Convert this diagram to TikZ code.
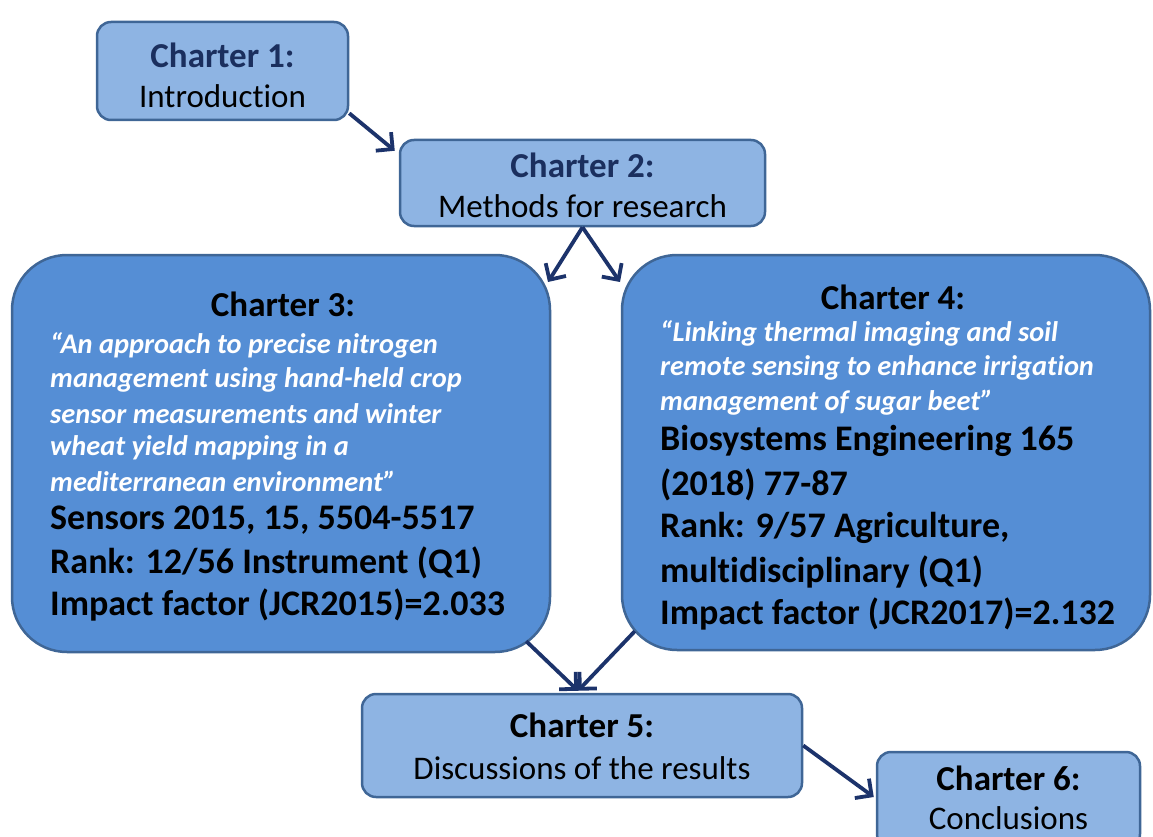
\documentclass[tikz,border=0pt]{standalone}
\usepackage{fontspec}
\setmainfont{Carlito}[Ligatures={NoCommon,NoContextual,NoRare}, RawFeature={-liga;-clig;-dlig;-calt}]
\usetikzlibrary{arrows.meta,calc}
\definecolor{lightfill}{HTML}{8EB4E3}
\definecolor{darkfill}{HTML}{558ED5}
\definecolor{boxborder}{HTML}{3F6696}
\definecolor{navy}{HTML}{1B2F5E}
\definecolor{arrowcol}{HTML}{1C336B}
\tikzset{
  smallbox/.style={draw=boxborder, line width=2.5pt, fill=lightfill, rounded corners=14pt, inner sep=0pt},
  bigbox/.style={draw=boxborder, line width=2.5pt, fill=darkfill, rounded corners=55pt, inner sep=0pt},
  head/.style={font=\fontsize{35}{40}\selectfont\bfseries, inner sep=0pt},
  body/.style={font=\fontsize{33}{40}\selectfont, inner sep=0pt},
  quote/.style={font=\fontsize{28.4}{32}\selectfont\bfseries\itshape, text=white, anchor=west, inner sep=0pt},
  info/.style={font=\fontsize{36}{40}\selectfont\bfseries, anchor=west, inner sep=0pt},
  conn/.style={draw=arrowcol, line width=3.8pt, -{Straight Barb[length=12pt,width=24pt,line width=3.8pt]}},
}
\begin{document}
\begin{tikzpicture}[x=1pt,y=-1pt]
\useasboundingbox (0,0) rectangle (1153,837);
\clip (0,0) rectangle (1153,837);
% boxes
\node[smallbox, minimum width=251pt, minimum height=98pt] (b1) at (222.5,71) {};
\node[smallbox, minimum width=365pt, minimum height=86pt] (b2) at (582.5,183) {};
\node[bigbox, minimum width=538pt, minimum height=397pt] (b3) at (281,453.5) {};
\node[bigbox, minimum width=528pt, minimum height=395pt] (b4) at (886,452.5) {};
\node[smallbox, minimum width=440pt, minimum height=103pt] (b5) at (582,745.5) {};
\node[smallbox, minimum width=263pt, minimum height=96pt] (b6) at (1008.5,800) {};
% box 1
\node[head, text=navy] (t1a) at (222.5,55) {Charter 1:};
\node[body] (t1b) at (222.5,96) {Introduction};
% box 2
\node[head, text=navy] (t2a) at (582.5,165) {Charter 2:};
\node[body] (t2b) at (582.5,206) {Methods for research};
% box 3
\node[head] (t3a) at (283,304) {Charter 3:};
\node[quote] (q31) at (50,345) {“An approach to precise nitrogen};
\node[quote] (q32) at (50,380) {management using hand-held crop};
\node[quote] (q33) at (50,414) {sensor measurements and winter};
\node[quote] (q34) at (50,448) {wheat yield mapping in a};
\node[quote] (q35) at (50,481) {mediterranean environment”};
\node[info] (i31) at (50,520) {Sensors 2015, 15, 5504-5517};
\node[info] (i32) at (50,563) {Rank: 12/56 Instrument (Q1)};
\node[info] (i33) at (50,605) {Impact factor (JCR2015)=2.033};
% box 4
\node[head] (t4a) at (893,297) {Charter 4:};
\node[quote] (q41) at (660,333) {“Linking thermal imaging and soil};
\node[quote] (q42) at (660,368) {remote sensing to enhance irrigation};
\node[quote] (q43) at (660,403) {management of sugar beet”};
\node[info] (i41) at (660,441) {Biosystems Engineering 165};
\node[info] (i42) at (660,485) {(2018) 77-87};
\node[info] (i43) at (660,528) {Rank: 9/57 Agriculture,};
\node[info] (i44) at (660,572) {multidisciplinary (Q1)};
\node[info] (i45) at (660,614) {Impact factor (JCR2017)=2.132};
% box 5
\node[head] (t5a) at (582,725) {Charter 5:};
\node[body] (t5b) at (582,768) {Discussions of the results};
% box 6
\node[head] (t6a) at (1008.5,778) {Charter 6:};
\node[body] (t6b) at (1008.5,818) {Conclusions};
% connectors
\coordinate (a3) at (548,282);
\coordinate (a4) at (620,282);
\draw[conn] ($(b1.south east)+(0,-8)$) -- ($(b2.north west)+(-4,12)$);
\draw[conn] (b2.south) -- (a3);
\draw[conn] (b2.south) -- (a4);
\draw[conn] ($(b3.south east)+(-25,-12)$) -- ($(b5.north)+(-4,-2)$);
\draw[conn] ($(b4.south west)+(14,-20)$) -- ($(b5.north)+(-4,-2)$);
\draw[conn] (b5.east) -- ($(b6.west)+(-2,-3)$);
\end{tikzpicture}
\end{document}
